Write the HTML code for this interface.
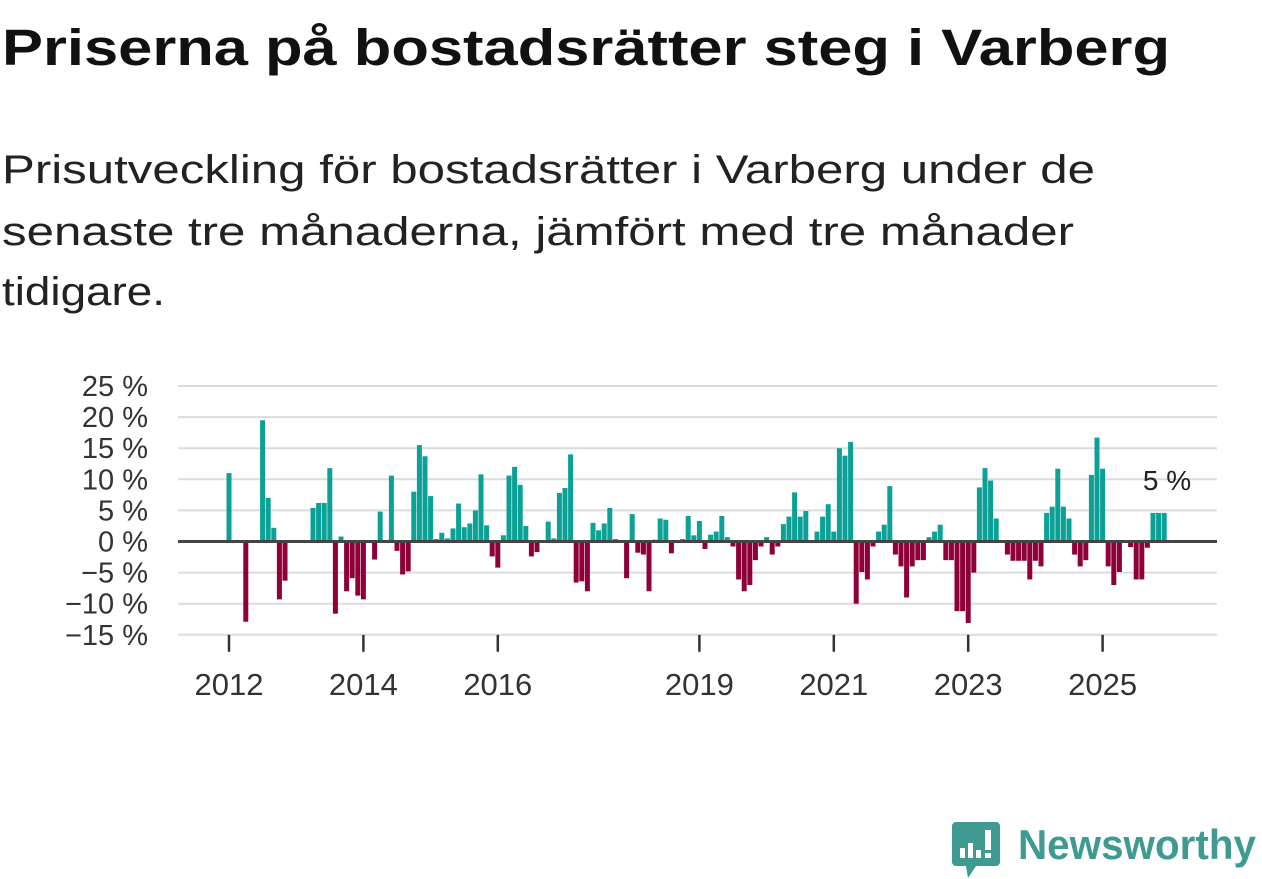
<!DOCTYPE html>
<html><head><meta charset="utf-8"><style>
html,body{margin:0;padding:0;background:#fff;width:1262px;height:879px;overflow:hidden}
svg{display:block}
</style></head><body>
<svg id="chart" width="1262" height="879" viewBox="0 0 1262 879" font-family="'Liberation Sans', 'DejaVu Sans', sans-serif">
<text x="2" y="65" font-size="51" font-weight="bold" fill="#111" textLength="1168" lengthAdjust="spacingAndGlyphs">Priserna på bostadsrätter steg i Varberg</text>
<g font-size="40" fill="#222">
<text x="2" y="183" textLength="1093" lengthAdjust="spacingAndGlyphs">Prisutveckling för bostadsrätter i Varberg under de</text>
<text x="2" y="245" textLength="1072" lengthAdjust="spacingAndGlyphs">senaste tre månaderna, jämfört med tre månader</text>
<text x="2" y="305" textLength="163" lengthAdjust="spacingAndGlyphs">tidigare.</text>
</g>
<g id="grid"></g>
<g id="yaxis"></g>
<g id="xaxis"></g>
<g id="bars"></g>
<line id="zero" x1="178" x2="1217" stroke="#444" stroke-width="3"/>
<text x="1167" y="490" font-size="28" fill="#222" text-anchor="middle">5 %</text>
<g>
<path d="M956 822 h40 a4 4 0 0 1 4 4 v36 a4 4 0 0 1 -4 4 h-20 l-8 12 l-2 -12 h-10 a4 4 0 0 1 -4 -4 v-36 a4 4 0 0 1 4 -4z" fill="#3f9a91"/>
<rect x="960" y="848" width="5" height="10" fill="#fff"/>
<rect x="968" y="843" width="5" height="15" fill="#fff"/>
<rect x="976" y="850" width="5" height="8" fill="#fff"/>
<rect x="985" y="830" width="6" height="20" fill="#fff"/>
<rect x="985" y="853" width="6" height="5" fill="#fff"/>
<text x="1018" y="859" font-size="42" font-weight="bold" fill="#3f9a91" textLength="238" lengthAdjust="spacingAndGlyphs">Newsworthy</text>
</g>
</svg>
<script>
const values = [11,null,null,-12.9,null,null,19.5,7,2.2,-9.3,-6.3,null,null,null,null,5.4,6.2,6.2,11.8,-11.6,0.8,-8,-5.9,-8.7,-9.3,null,-2.9,4.8,null,10.6,-1.5,-5.3,-4.8,8,15.5,13.7,7.3,0.4,1.4,0.5,2.1,6.1,2.3,2.9,5,10.8,2.6,-2.4,-4.2,1,10.6,12,9.1,2.5,-2.4,-1.7,null,3.2,0.5,7.8,8.6,14,-6.6,-6.4,-8,3,1.8,2.9,5.4,0.4,null,-5.9,4.4,-1.8,-2.1,-8,0.3,3.7,3.5,-1.9,null,0.4,4.1,1,3.3,-1.2,1.1,1.6,4.1,0.7,-0.8,-6.1,-8,-7,-3,-0.8,0.7,-2.1,-0.8,2.8,4,7.9,4,4.9,null,1.6,4,6,1.6,15,13.8,16,-10,-4.9,-6.1,-0.8,1.6,2.7,8.9,-2.1,-4,-9,-4,-3,-3,0.7,1.6,2.7,-3,-3,-11.2,-11.2,-13.1,-5,8.7,11.8,9.8,3.7,null,-2.1,-3.1,-3.1,-3.1,-6.1,-3.1,-4,4.6,5.6,11.7,5.6,3.7,-2.1,-4,-3,10.7,16.7,11.7,-4,-7,-4.9,null,-0.9,-6.1,-6.1,-1,4.6,4.6,4.6];
const startYear = 2012;
const yTicks = [25,20,15,10,5,0,-5,-10,-15];
const yTickLabels = ["25 %","20 %","15 %","10 %","5 %","0 %","−5 %","−10 %","−15 %"];
const xTickYears = [2012,2014,2016,2019,2021,2023,2025];

const NS = "http://www.w3.org/2000/svg";
function xScale(i){ return 229 + i*5.6; }
function yScale(v){ return 541.5 - v*6.22; }
function mk(tag, attrs, parent){ const e=document.createElementNS(NS,tag); for(const k in attrs) e.setAttribute(k,attrs[k]); parent.appendChild(e); return e; }

const grid=document.getElementById('grid'), yaxis=document.getElementById('yaxis'), xaxis=document.getElementById('xaxis'), bars=document.getElementById('bars');
yTicks.forEach((t,k)=>{
  const y=yScale(t);
  if(t!==0){
    const l=mk('line',{x1:178,x2:1217,y1:y,y2:y,stroke:'#dcdcdc','stroke-width':2},grid);
    
    
  }
  const tx=mk('text',{x:148,y:y+10,'font-size':29,fill:'#333','text-anchor':'end'},yaxis);
  tx.textContent=yTickLabels[k];
  
  
});
const z=document.getElementById('zero'); z.setAttribute('y1',yScale(0)); z.setAttribute('y2',yScale(0));
xTickYears.forEach(yr=>{
  const x=xScale((yr-startYear)*12);
  const tk=mk('line',{x1:x,x2:x,y1:yScale(-15),y2:yScale(-15)+17,stroke:'#333','stroke-width':2.5},xaxis);
  
  
  const tx=mk('text',{x:x,y:695,'font-size':31,fill:'#333','text-anchor':'middle'},xaxis);
  tx.textContent=String(yr);
  
  
});
values.forEach((v,i)=>{
  if(v===null) return;
  const y0=yScale(0), y1=yScale(v);
  const r=mk('rect',{x:xScale(i)-2.5,y:Math.min(y0,y1),width:5,height:Math.abs(y1-y0),fill:v>=0?'#0ba197':'#8e0038'},bars);
  
  
});
</script>
</body></html>
